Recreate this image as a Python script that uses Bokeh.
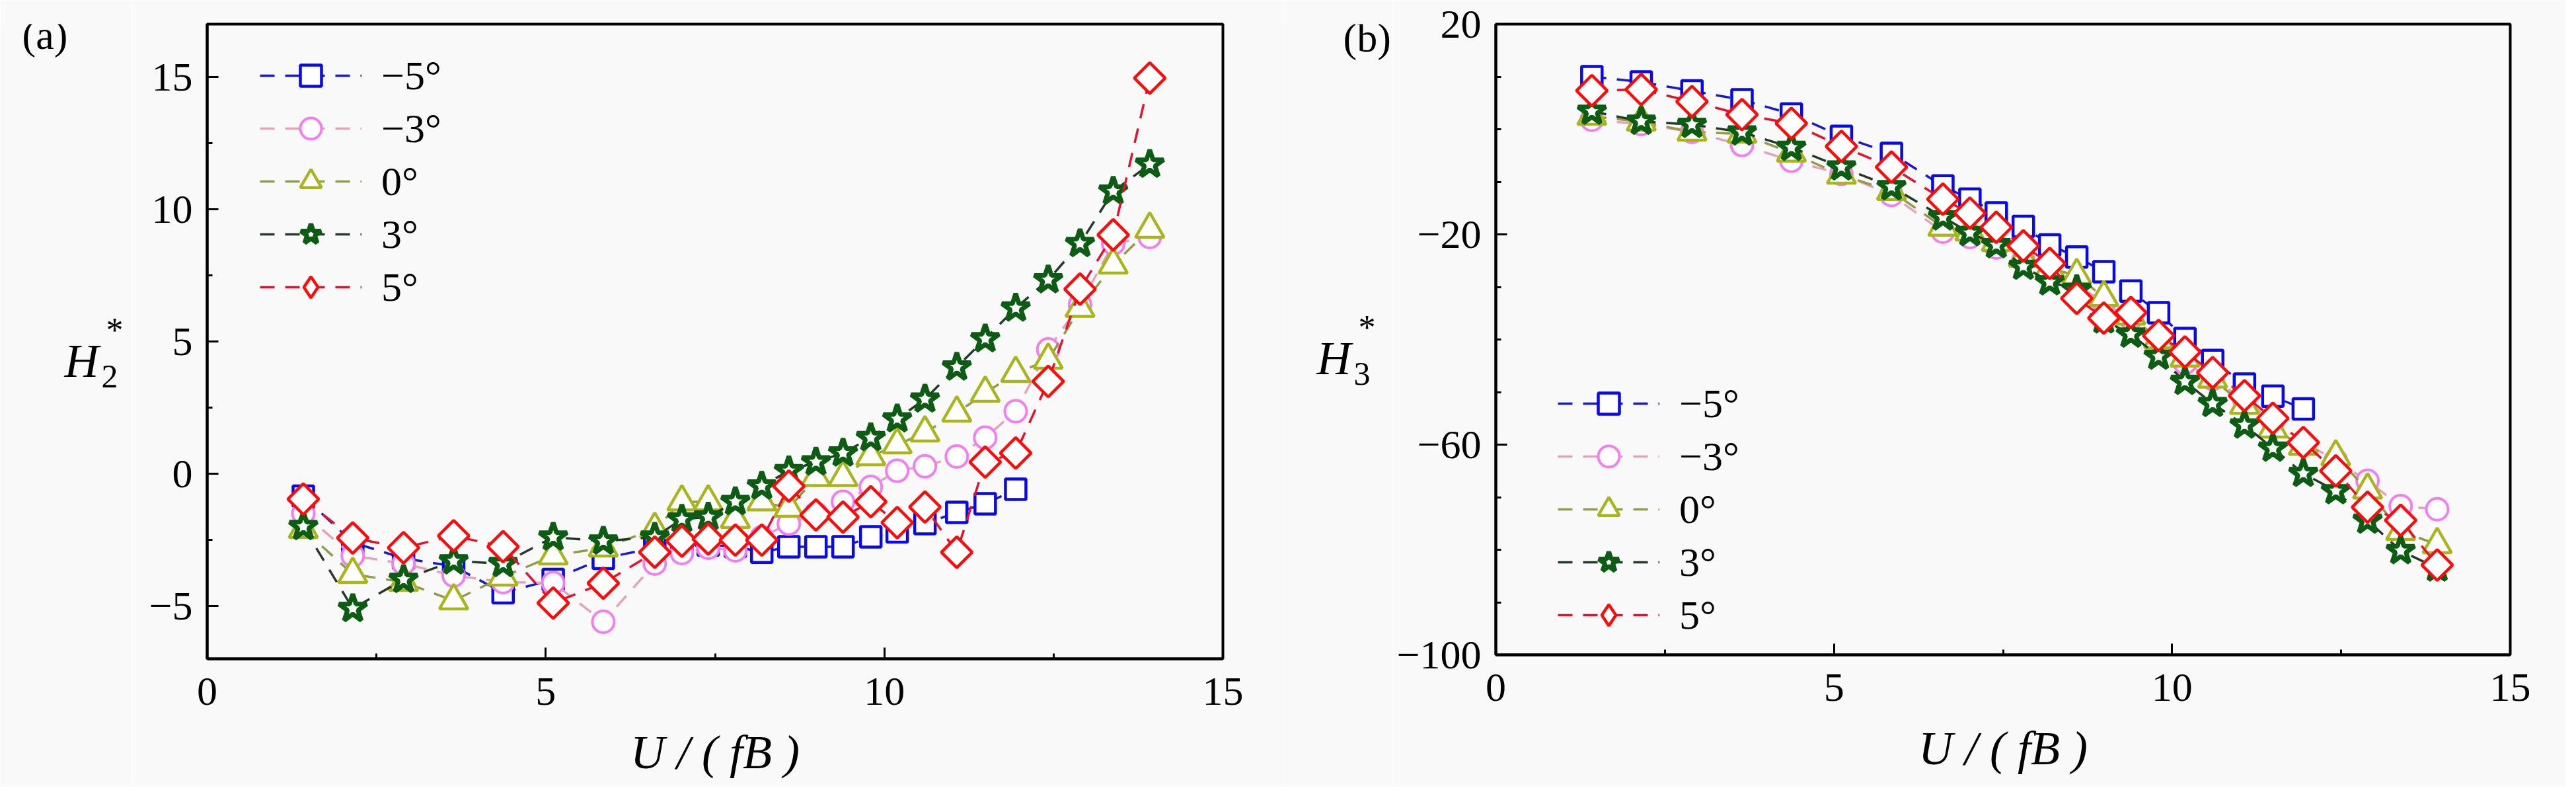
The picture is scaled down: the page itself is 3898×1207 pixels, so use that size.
import math
from bokeh.plotting import figure
from bokeh.layouts import row
from bokeh.models import FixedTicker, Legend, LegendItem, Label
from bokeh.embed import file_html
from bokeh.resources import INLINE

# ---------------- data ----------------
U = [1.42, 2.15, 2.90, 3.64, 4.37, 5.11, 5.85, 6.61, 7.01, 7.40, 7.80, 8.19, 8.59,
     8.99, 9.39, 9.80, 10.19, 10.60, 11.07, 11.49, 11.94, 12.42, 12.89, 13.38, 13.92]
U_m5 = [1.42, 2.15, 2.90, 3.64, 4.37, 5.11, 5.85, 6.61, 7.01, 7.40, 7.80, 8.19, 8.59,
        8.99, 9.39, 9.80, 10.19, 10.60, 11.07, 11.49, 11.94]

series_labels = ["−5°", "−3°", "0°", "3°", "5°"]

# panel (a): H2*
H2_m5 = [-0.85, -2.6, -3.2, -3.5, -4.5, -4.0, -3.2, -2.8, -2.75, -2.7, -2.75, -2.97, -2.76,
         -2.76, -2.76, -2.39, -2.2, -1.89, -1.46, -1.14, -0.59]
H2_m3 = [-1.5, -3.1, -3.4, -3.85, -4.1, -4.13, -5.6, -3.4, -3.0, -2.8, -2.9, -2.4, -1.89,
         -1.5, -1.06, -0.5, 0.11, 0.28, 0.65, 1.36, 2.36, 4.7, 6.4, 8.7, 8.95]
H2_0 = [-2.1, -3.8, -4.1, -4.8, -3.9, -3.1, -2.8, -2.1, -1.06, -1.06, -1.72, -1.06, -1.3,
        -0.14, -0.14, 0.65, 1.1, 1.55, 2.3, 3.05, 3.8, 4.3, 6.26, 7.9, 9.25]
H2_p3 = [-2.0, -5.1, -4.0, -3.3, -3.4, -2.4, -2.55, -2.4, -1.72, -1.64, -1.06, -0.47, 0.11,
         0.44, 0.78, 1.36, 2.07, 2.82, 4.03, 5.1, 6.26, 7.33, 8.7, 10.68, 11.7]
H2_p5 = [-0.96, -2.43, -2.8, -2.35, -2.76, -4.89, -4.14, -2.97, -2.55, -2.47, -2.51, -2.51,
         -0.47, -1.56, -1.64, -1.06, -1.85, -1.26, -2.97, 0.44, 0.78, 3.49, 6.98, 9.03, 14.96]

# panel (b): H3*
H3_m5 = [10.0, 9.0, 7.3, 5.6, 2.9, -1.35, -4.6, -10.8, -13.3, -15.9, -18.5, -22.0, -24.3,
         -27.1, -30.8, -34.9, -39.8, -44.0, -48.5, -50.8, -53.2]
H3_m3 = [1.8, 1.0, -0.5, -3.0, -6.0, -8.5, -12.5, -19.5, -20.5, -22.5, -25.0, -27.5, -29.5,
         -33.0, -36.0, -40.0, -44.5, -47.5, -51.5, -55.5, -59.5, -63.0, -66.9, -71.7, -72.3]
H3_0 = [2.5, 1.4, -0.5, -0.9, -4.5, -8.7, -11.8, -18.6, -19.5, -21.5, -24.5, -26.5, -27.8,
        -32.0, -35.5, -40.0, -43.5, -47.5, -52.5, -57.0, -60.3, -62.3, -68.6, -76.5, -79.0]
H3_p3 = [3.4, 1.5, 0.9, -0.55, -3.46, -7.2, -10.95, -16.7, -19.7, -22.0, -26.1, -29.05, -30.5,
         -36.3, -39.0, -43.2, -48.0, -52.2, -56.3, -60.7, -65.5, -68.8, -74.4, -80.2, -83.5]
H3_p5 = [7.35, 7.56, 5.27, 2.78, 1.12, -3.25, -7.2, -13.3, -15.95, -18.65, -22.19, -25.52,
         -32.17, -35.92, -34.88, -39.25, -42.37, -46.3, -50.7, -55.0, -59.6, -65.0, -71.9,
         -74.4, -82.9]

x_ticks = [0, 5, 10, 15]
x_minor = [2.5, 7.5, 12.5]
ya_ticks = [-5, 0, 5, 10, 15]
ya_minor = [-2.5, 2.5, 7.5, 12.5]
yb_ticks = [20, -20, -60, -100]
yb_minor = [10, 0, -10, -30, -40, -50, -70, -80, -90]

# ---------------- styles ----------------
FONT = "Liberation Serif"
BG = "#f9f9f9"
H = 1190
STYLES = [
    dict(marker="square", size=31, angle=0.0, color="#0a0ae6", lcolor="#1818d0", lw=4.5),
    dict(marker="circle", size=33, angle=0.0, color="#f27ff0", lcolor="#e6a2bc", lw=4.0),
    dict(marker="triangle", size=43, angle=0.0, color="#a9b51c", lcolor="#939a48", lw=4.5),
    dict(marker="star", size=44, angle=0.0, color="#0d5c14", lcolor="#233a28", lw=7.0),
    dict(marker="square", size=33, angle=math.pi / 4, color="#ff0a0a", lcolor="#e3102e", lw=4.5),
]


def label_strip(width, tag, tag_c, sub, h_c):
    """Narrow strip left of a panel holding the panel tag and the H_n^* axis title.
    Positions are text centres in canvas pixels from the top-left."""
    s = figure(frame_width=width, frame_height=H, x_range=(0, 1), y_range=(0, 1),
               output_backend="svg", toolbar_location=None, title=None,
               x_axis_location=None, y_axis_location=None,
               min_border_left=0, min_border_right=0, min_border_top=0, min_border_bottom=0)
    s.background_fill_color = BG
    s.border_fill_color = BG
    s.outline_line_color = None
    s.grid.visible = False

    def put(x, y, text, size, style="normal"):
        s.add_layout(Label(x=x, y=H - y, x_units="screen", y_units="screen", text=text,
                           text_font=FONT, text_font_style=style, text_font_size=size,
                           text_color="black", text_align="left", text_baseline="middle"))

    put(tag_c[0], tag_c[1], tag, "62px")
    hx, hy = h_c
    put(hx, hy, "H", "72px", "italic")
    put(hx + 56, hy + 24, sub, "50px")
    put(hx + 63, hy - 46, "*", "52px")
    return s


def make_panel(fw, fh, bl, br, bt, bb, y_range, y_ticks, y_minor, y_over,
               xs_list, ys_list, legend_loc):
    p = figure(frame_width=fw, frame_height=fh, x_range=(0, 15), y_range=y_range,
               output_backend="svg", toolbar_location=None, title=None,
               min_border_left=bl, min_border_right=br, min_border_top=bt,
               min_border_bottom=bb)
    p.background_fill_color = BG
    p.border_fill_color = BG
    p.outline_line_color = "black"
    p.outline_line_width = 4
    p.grid.visible = False

    p.xaxis.ticker = FixedTicker(ticks=x_ticks, minor_ticks=x_minor)
    p.yaxis.ticker = FixedTicker(ticks=y_ticks, minor_ticks=y_minor)
    p.yaxis.major_label_overrides = y_over
    for ax in (p.xaxis[0], p.yaxis[0]):
        ax.axis_line_width = 4
        ax.axis_line_color = "black"
        ax.major_tick_in = 17
        ax.major_tick_out = 0
        ax.minor_tick_in = 8
        ax.minor_tick_out = 0
        ax.major_tick_line_width = 3
        ax.minor_tick_line_width = 3
        ax.major_tick_line_color = "black"
        ax.minor_tick_line_color = "black"
        ax.major_label_text_font = FONT
        ax.major_label_text_font_size = "62px"
        ax.major_label_text_color = "black"
        ax.major_label_text_line_height = 1.0
    p.yaxis.major_label_standoff = 22
    p.xaxis.major_label_standoff = 29
    p.xaxis.axis_label = "U / ( fB )"
    p.xaxis.axis_label_text_font = FONT
    p.xaxis.axis_label_text_font_style = "italic"
    p.xaxis.axis_label_text_font_size = "72px"
    p.xaxis.axis_label_text_line_height = 1.0
    p.xaxis.axis_label_text_color = "black"
    p.xaxis.axis_label_standoff = 29

    items = []
    for lab, st, xs, ys in zip(series_labels, STYLES, xs_list, ys_list):
        lr = p.line(xs, ys, line_color=st["lcolor"], line_width=3.5, line_dash="22 16")
        rends = [lr]
        if st["angle"] != 0.0:
            # legend markers are never rotated: a tiny diamond hidden under the first
            # point stands in for the rotated-square symbol in the legend
            hr = p.scatter(xs[:1], ys[:1], marker="diamond", size=1,
                           line_color=st["color"], line_width=st["lw"], fill_color="white")
            rends.append(hr)
        sr = p.scatter(xs, ys, marker=st["marker"], size=st["size"], angle=st["angle"],
                       line_color=st["color"], line_width=st["lw"], fill_color="white")
        if st["angle"] == 0.0:
            rends.append(sr)
        items.append(LegendItem(label=lab, renderers=rends))

    leg = Legend(items=items, location=legend_loc, glyph_width=154, glyph_height=80,
                 spacing=0, padding=0, margin=0, label_standoff=30,
                 label_text_font=FONT, label_text_font_size="62px",
                 label_text_color="black", label_text_baseline="middle",
                 background_fill_alpha=0, border_line_alpha=0)
    p.add_layout(leg)
    return p


la = label_strip(200, "(a)", (33, 16), "2", (97, 509))
pa = make_panel(1537, 960, 113, 92, 26, 204, (-7, 17), ya_ticks, ya_minor, {-5: "−5"},
                [U_m5, U, U, U, U], [H2_m5, H2_m3, H2_0, H2_p3, H2_p5], (80, 522))
lb = label_strip(165, "(b)", (90, 20), "3", (50, 505))
pb = make_panel(1535, 954, 156, 84, 36, 200, (-100, 20), yb_ticks, yb_minor,
                {-20: "−20", -60: "−60", -100: "−100"},
                [U_m5, U, U, U, U], [H3_m5, H3_m3, H3_0, H3_p3, H3_p5], (94, 20))

layout = row(la, pa, lb, pb)
open("out.html", "w").write(file_html(layout, INLINE))
